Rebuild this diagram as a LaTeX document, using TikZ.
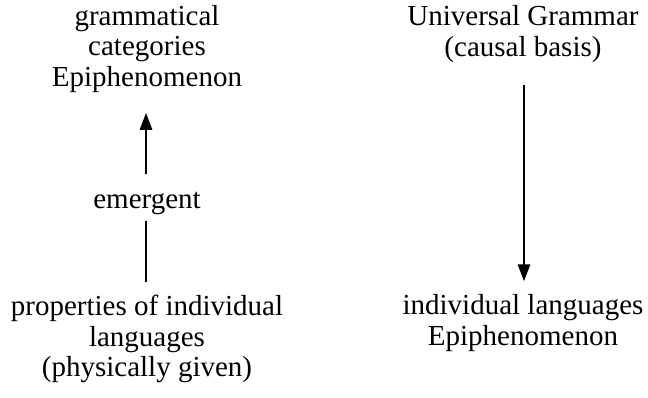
\documentclass[tikz,border=0pt]{standalone}
\usepackage{fontspec}
\setmainfont{Liberation Serif}
\usetikzlibrary{arrows.meta}

\begin{document}
\begin{tikzpicture}[x=1pt,y=1pt]
            \tikzstyle{every node}+=[inner sep=0pt]
            \tikzstyle{label}=[align=center,font=\fontsize{29}{30.5}\selectfont]
            \tikzstyle{link}=[black,line width=2.8pt]
            \tikzstyle{tip}=[-{Triangle[length=17pt,width=12pt]}]
            \useasboundingbox (0,0) rectangle (648,-397);
            \node [label] (cat) at (147,-49) {grammatical\\categories\\Epiphenomenon};
            \node [label] (ug) at (523,-34) {Universal Grammar\\(causal basis)};
            \node [label] (emg) at (147,-203) {emergent};
            \node [label] (prop) at (147,-339) {properties of individual\\languages\\(physically given)};
            \node [label] (lang) at (523,-323) {individual languages\\Epiphenomenon};
            \draw [link] ([xshift=-1pt,yshift=13pt]prop.north) -- ([xshift=-1pt,yshift=-7pt]emg.south);
            \draw [link,tip] ([xshift=-1pt,yshift=18pt]emg.north) -- ([xshift=-1pt,yshift=-20pt]cat.south);
            \draw [link,tip] ([xshift=1pt,yshift=-22pt]ug.south) -- ([xshift=1pt,yshift=13pt]lang.north);
\end{tikzpicture}
\end{document}
